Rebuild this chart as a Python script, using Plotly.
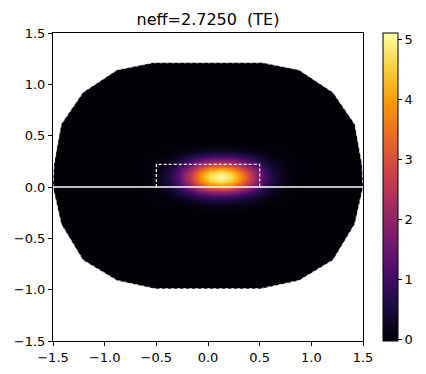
import plotly.graph_objects as go

# Domain outline (mesh boundary)
domain_x = [-1.50, -1.49, -1.42, -1.21, -0.88, -0.53, 0.53, 0.88, 1.21, 1.42, 1.49, 1.50,
            1.42, 1.21, 0.88, 0.51, -0.51, -0.88, -1.21, -1.42]
domain_y = [0.00, 0.22, 0.61, 0.92, 1.14, 1.21, 1.21, 1.14, 0.92, 0.61, 0.22, 0.00,
            -0.36, -0.71, -0.91, -0.99, -0.99, -0.91, -0.71, -0.36]

# Waveguide core rectangle and substrate interface
core_x = [-0.5, -0.5, 0.5, 0.5]
core_y = [0.0, 0.22, 0.22, 0.0]
interface_x = [-1.5, 1.5]
interface_y = [0.0, 0.0]

# Mode intensity samples
field_x = [-0.58, -0.48, -0.38, -0.28, -0.18, -0.08, 0.02, 0.12, 0.22, 0.32, 0.42, 0.52, 0.62, 0.72, 0.82]
field_y = [-0.22, -0.18, -0.14, -0.10, -0.06, -0.02, 0.02, 0.06, 0.10, 0.14, 0.18, 0.22, 0.26, 0.30, 0.34, 0.38, 0.42]
field_z = [
    [0.00, 0.00, 0.01, 0.01, 0.03, 0.04, 0.05, 0.05, 0.05, 0.04, 0.03, 0.01, 0.01, 0.00, 0.00],
    [0.00, 0.01, 0.02, 0.04, 0.08, 0.11, 0.14, 0.15, 0.14, 0.11, 0.08, 0.04, 0.02, 0.01, 0.00],
    [0.00, 0.02, 0.04, 0.11, 0.20, 0.31, 0.38, 0.41, 0.38, 0.31, 0.20, 0.11, 0.04, 0.02, 0.00],
    [0.01, 0.04, 0.11, 0.25, 0.48, 0.73, 0.90, 0.97, 0.90, 0.73, 0.48, 0.25, 0.11, 0.04, 0.01],
    [0.02, 0.07, 0.20, 0.48, 0.92, 1.38, 1.71, 1.84, 1.71, 1.38, 0.92, 0.48, 0.20, 0.07, 0.02],
    [0.03, 0.12, 0.32, 0.77, 1.48, 2.22, 2.75, 2.96, 2.75, 2.22, 1.48, 0.77, 0.32, 0.12, 0.03],
    [0.04, 0.16, 0.45, 1.06, 2.04, 3.06, 3.79, 4.08, 3.79, 3.06, 2.04, 1.06, 0.45, 0.16, 0.04],
    [0.05, 0.19, 0.53, 1.26, 2.42, 3.64, 4.50, 4.85, 4.50, 3.64, 2.42, 1.26, 0.53, 0.19, 0.05],
    [0.05, 0.20, 0.56, 1.33, 2.55, 3.83, 4.74, 5.10, 4.74, 3.83, 2.55, 1.33, 0.56, 0.20, 0.05],
    [0.05, 0.19, 0.53, 1.26, 2.42, 3.64, 4.50, 4.85, 4.50, 3.64, 2.42, 1.26, 0.53, 0.19, 0.05],
    [0.04, 0.16, 0.45, 1.06, 2.04, 3.06, 3.79, 4.08, 3.79, 3.06, 2.04, 1.06, 0.45, 0.16, 0.04],
    [0.03, 0.12, 0.32, 0.77, 1.48, 2.22, 2.75, 2.96, 2.75, 2.22, 1.48, 0.77, 0.32, 0.12, 0.03],
    [0.02, 0.07, 0.20, 0.48, 0.92, 1.38, 1.71, 1.84, 1.71, 1.38, 0.92, 0.48, 0.20, 0.07, 0.02],
    [0.01, 0.04, 0.11, 0.25, 0.48, 0.73, 0.90, 0.97, 0.90, 0.73, 0.48, 0.25, 0.11, 0.04, 0.01],
    [0.00, 0.02, 0.04, 0.11, 0.20, 0.31, 0.38, 0.41, 0.38, 0.31, 0.20, 0.11, 0.04, 0.02, 0.00],
    [0.00, 0.01, 0.02, 0.04, 0.08, 0.11, 0.14, 0.15, 0.14, 0.11, 0.08, 0.04, 0.02, 0.01, 0.00],
    [0.00, 0.00, 0.01, 0.01, 0.03, 0.04, 0.05, 0.05, 0.05, 0.04, 0.03, 0.01, 0.01, 0.00, 0.00],
]
z_min, z_max = -0.02, 5.1
tick_vals = [-1.5, -1.0, -0.5, 0.0, 0.5, 1.0, 1.5]
cbar_ticks = [0, 1, 2, 3, 4, 5]
title_text = "neff=2.7250\u00a0\u00a0(TE)"

FONT = "DejaVu Sans"
L, R, T, B = 53, 63, 33, 33
W, H = 426, 374
plot_w = W - L - R

path = "M " + " L ".join(f"{x},{y}" for x, y in zip(domain_x, domain_y)) + " Z"

fig = go.Figure()
fig.add_trace(go.Heatmap(
    x=field_x, y=field_y, z=field_z, zsmooth="best",
    colorscale="Inferno", zmin=z_min, zmax=z_max,
    colorbar=dict(
        x=(383.3 - L) / plot_w, xanchor="left", xref="paper", y=0.5, yanchor="middle",
        len=1.0, lenmode="fraction", thickness=15, thicknessmode="pixels",
        xpad=0, ypad=0,
        outlinewidth=1, outlinecolor="black",
        tickvals=cbar_ticks, ticks="outside", ticklen=4, tickcolor="black",
        tickfont=dict(family=FONT, size=13, color="black"),
    ),
    hoverinfo="skip",
))
fig.add_trace(go.Scatter(
    x=domain_x + domain_x[:1], y=domain_y + domain_y[:1], mode="lines",
    line=dict(color="#d8d8d8", width=1, dash="dot"), hoverinfo="skip",
))
fig.add_trace(go.Scatter(
    x=interface_x, y=interface_y, mode="lines",
    line=dict(color="white", width=1.3), hoverinfo="skip",
))
fig.add_trace(go.Scatter(
    x=core_x, y=core_y, mode="lines",
    line=dict(color="white", width=1.3, dash="3px,2px"), hoverinfo="skip",
))

fig.add_shape(type="path", path=path, xref="x", yref="y", layer="below",
              fillcolor="rgb(1,0,6)", line=dict(width=0))

axis_common = dict(
    range=[-1.5, 1.5], tickvals=tick_vals, tickformat=".1f",
    showgrid=False, zeroline=False, showline=True, mirror=True,
    linecolor="black", linewidth=1, ticks="outside", ticklen=4, tickcolor="black",
    tickfont=dict(family=FONT, size=13, color="black"), automargin=False,
)
fig.update_layout(
    width=W, height=H,
    margin=dict(l=L, r=R, t=T, b=B, autoexpand=False),
    paper_bgcolor="white", plot_bgcolor="white",
    showlegend=False,
    title=dict(text=title_text, x=(L + plot_w / 2) / W, xanchor="center",
               y=1 - 19.5 / H, yanchor="middle", yref="container",
               font=dict(family=FONT, size=16, color="black")),
    xaxis=axis_common,
    yaxis=dict(axis_common),
)
fig.write_html("out.html", config={"displayModeBar": False},
               post_script="document.body.style.margin='0';document.body.style.padding='0';")
